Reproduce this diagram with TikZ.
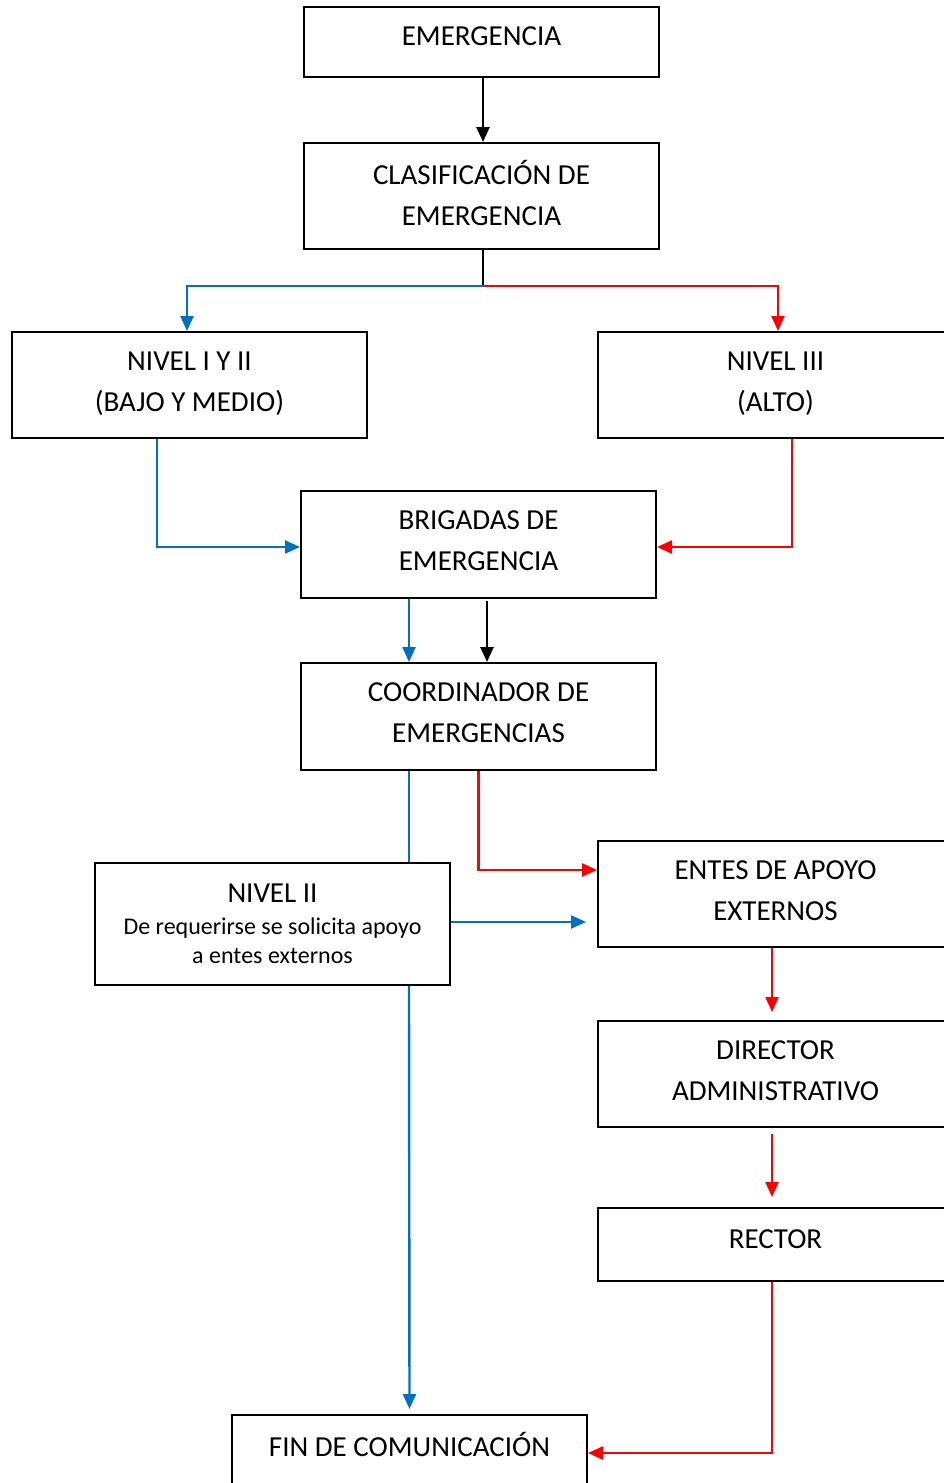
\documentclass[tikz,border=0pt]{standalone}
\usepackage{fontspec}
\setmainfont{Carlito}
\usetikzlibrary{arrows.meta}
\definecolor{wblue}{HTML}{0070C0}
\definecolor{wred}{HTML}{FF0000}
\tikzset{
  box/.style={draw=black, line width=2pt, minimum width=355pt, minimum height=106pt, inner sep=0pt, align=center, font=\fontsize{29}{41}\selectfont},
  onel/.style={text depth=11pt},
  twol/.style={text depth=7pt},
  tip/.style={-{Triangle[width=13pt,length=15pt]}},
  blk/.style={draw=black, line width=2.6pt},
  thinblk/.style={draw=black, line width=1.6pt},
  blu/.style={draw=wblue, line width=2.4pt},
  rd/.style={draw=wred, line width=2.4pt}
}
\begin{document}
\begin{tikzpicture}[x=1pt, y=-1pt]
\useasboundingbox (0,0) rectangle (944,1483);
\clip (0,0) rectangle (944,1483);
\node[box, onel, minimum height=70pt] (emerg) at (481.5,42) {EMERGENCIA};
\node[box, twol] (clasif) at (481.5,196) {CLASIFICACIÓN DE\\EMERGENCIA};
\node[box, twol] (n12) at (189.5,385) {NIVEL I Y II\\(BAJO Y MEDIO)};
\node[box, twol] (n3) at (775.5,385) {NIVEL III\\(ALTO)};
\node[box, twol, minimum height=107pt] (brig) at (478.5,544.5) {BRIGADAS DE\\EMERGENCIA};
\node[box, twol, minimum height=107pt] (coord) at (478.5,716.5) {COORDINADOR DE\\EMERGENCIAS};
\node[box, minimum height=122pt] (n2) at (272.5,924) {NIVEL II\\[-9pt]{\fontsize{24}{29}\selectfont De requerirse se solicita apoyo}\\[-12pt]{\fontsize{24}{29}\selectfont a entes externos}};
\node[box, twol] (entes) at (775.5,894) {ENTES DE APOYO\\EXTERNOS};
\node[box, twol] (dir) at (775.5,1074) {DIRECTOR\\ADMINISTRATIVO};
\node[box, onel, minimum height=73pt] (rector) at (775.5,1244.5) {RECTOR};
\node[box, twol] (fin) at (409.5,1468) {FIN DE COMUNICACIÓN\\\mbox{}};

\coordinate (split) at (483,286);
\draw[blk, tip] ([xshift=1.5pt]emerg.south) -- ([xshift=1.5pt]clasif.north);
\draw[thinblk] ([xshift=1.5pt]clasif.south) -- (split);
\draw[blu, tip] (split) -| ([xshift=-2.5pt]n12.north);
\draw[rd, tip] (split) -| ([xshift=2.5pt]n3.north);
\draw[blu, tip] ([xshift=-32.5pt]n12.south) |- ([yshift=-2.5pt]brig.west);
\draw[rd, tip] ([xshift=16.5pt]n3.south) |- ([yshift=-2.5pt]brig.east);
\draw[blu, tip] ([xshift=-69.5pt]brig.south) -- ([xshift=-69.5pt]coord.north);
\draw[blk, tip] ([xshift=8.5pt, yshift=-2pt]brig.south) -- ([xshift=8.5pt]coord.north);
\draw[blu] ([xshift=-69.5pt]coord.south) -- ([xshift=136.5pt]n2.north);
\draw[blu, tip, shorten >=5pt] ([xshift=136.5pt]n2.south) -- (fin.north);
\draw[rd, tip] (coord.south) |- ([yshift=24pt]entes.west);
\draw[blu, tip, shorten >=11pt] ([yshift=2pt]n2.east) -- ([yshift=2pt]n2.east -| entes.west);
\draw[rd, tip, shorten >=8pt] ([xshift=-3.5pt]entes.south) -- ([xshift=-3.5pt]dir.north);
\draw[rd, tip, shorten <=6pt, shorten >=10pt] ([xshift=-3.5pt]dir.south) -- ([xshift=-3.5pt]rector.north);
\draw[rd, tip] ([xshift=-3.5pt]rector.south) |- ([yshift=15pt]fin.east);
\end{tikzpicture}
\end{document}
